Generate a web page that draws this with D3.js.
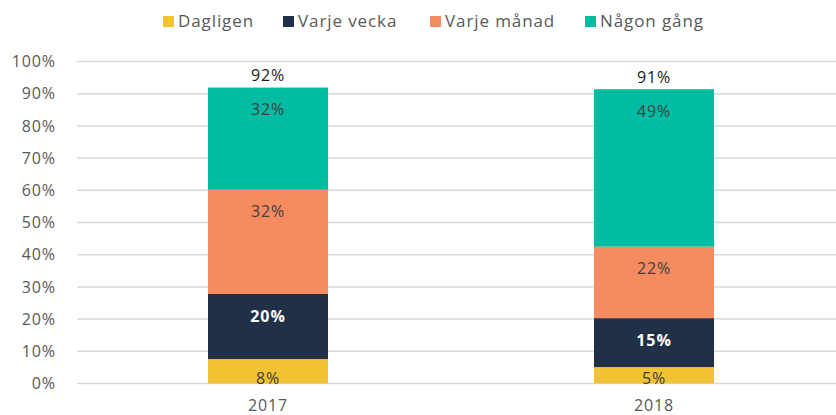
<!DOCTYPE html>
<html>
<head>
<meta charset="utf-8">
<script src="https://cdn.jsdelivr.net/npm/d3@7"></script>
<style>
  body { margin: 0; background: #fff; }
  text { font-family: "Open Sans", "DejaVu Sans", sans-serif; letter-spacing: 0.9px; }
</style>
</head>
<body>
<div id="chart"></div>
<script>
// data
var years = ["2017", "2018"];
var series = ["Dagligen", "Varje vecka", "Varje månad", "Någon gång"];
var dagligen = [7.6, 5.1];
var varjeVecka = [20.2, 15.2];
var varjeManad = [32.4, 22.2];
var nagonGang = [31.7, 48.9];
var yTicks = [0, 10, 20, 30, 40, 50, 60, 70, 80, 90, 100];

var colors = ["#f1c232", "#1f3047", "#f58b5f", "#00bca3"];
var labelColors = ["#404040", "#ffffff", "#404040", "#404040"];

var W = 836, H = 415;
var margin = { top: 61.5, right: -11, bottom: 31.5, left: 75 };
var width = W - margin.left - margin.right,
  height = H - margin.top - margin.bottom;

var svg = d3.select("#chart").append("svg")
  .attr("width", W)
  .attr("height", H);

var g = svg.append("g")
  .attr("transform", "translate(" + margin.left + "," + margin.top + ")");

var x = d3.scaleBand().domain(years).range([0, width]).paddingInner(0).paddingOuter(0);
var y = d3.scaleLinear().domain([0, 100]).range([height, 0]);
var barW = 120;

// build rows for stacking
var rows = years.map(function (yr, i) {
  return {
    year: yr,
    "Dagligen": dagligen[i],
    "Varje vecka": varjeVecka[i],
    "Varje månad": varjeManad[i],
    "Någon gång": nagonGang[i]
  };
});
var stacked = d3.stack().keys(series)(rows);

// gridlines
g.append("g").selectAll("line").data(yTicks).join("line")
  .attr("x1", 2).attr("x2", width)
  .attr("y1", function (d) { return y(d); })
  .attr("y2", function (d) { return y(d); })
  .attr("stroke", "#d9d9d9")
  .attr("stroke-width", 1.5);

// y axis labels
var yAxis = g.append("g")
  .attr("transform", "translate(-16,0)")
  .call(d3.axisLeft(y).tickValues(yTicks).tickSize(0).tickFormat(function (d) { return d + "%"; }));
yAxis.select(".domain").remove();
yAxis.selectAll("text")
  .attr("font-size", "16px")
  .attr("fill", "#595959")
  .attr("font-family", "Open Sans, sans-serif");

// x axis labels
var xAxis = g.append("g")
  .attr("transform", "translate(0," + height + ")")
  .call(d3.axisBottom(x).tickSize(0).tickPadding(16));
xAxis.select(".domain").remove();
xAxis.selectAll("text")
  .attr("font-size", "16px")
  .attr("fill", "#595959")
  .attr("font-family", "Open Sans, sans-serif");

// bars
var layers = g.selectAll(".layer").data(stacked).join("g")
  .attr("class", "layer")
  .attr("fill", function (d, i) { return colors[i]; });

layers.selectAll("rect").data(function (d) { return d; }).join("rect")
  .attr("x", function (d) { return x(d.data.year) + x.bandwidth() / 2 - barW / 2; })
  .attr("y", function (d) { return y(d[1]); })
  .attr("width", barW)
  .attr("height", function (d) { return y(d[0]) - y(d[1]); });

// segment labels, near the top of each segment (kept just above the baseline)
stacked.forEach(function (layer, li) {
  g.append("g").selectAll("text").data(layer).join("text")
    .attr("x", function (d) { return x(d.data.year) + x.bandwidth() / 2; })
    .attr("y", function (d) { return Math.min(y(d[1]) + 22, height - 5); })
    .attr("dy", "0.35em")
    .attr("text-anchor", "middle")
    .attr("font-size", "16px")
    .attr("font-weight", li === 1 ? "bold" : "normal")
    .attr("fill", labelColors[li])
    .text(function (d) { return Math.round(d[1] - d[0]) + "%"; });
});

// totals
var last = stacked[stacked.length - 1];
g.append("g").selectAll("text").data(last).join("text")
  .attr("x", function (d) { return x(d.data.year) + x.bandwidth() / 2; })
  .attr("y", function (d) { return y(d[1]) - 12; })
  .attr("dy", "0.35em")
  .attr("text-anchor", "middle")
  .attr("font-size", "16px")
  .attr("fill", "#1a1a1a")
  .text(function (d) { return Math.round(d[1]) + "%"; });

// legend
var legendX = [163, 283, 430, 585];
var legend = svg.append("g").selectAll("g").data(series).join("g")
  .attr("transform", function (d, i) { return "translate(" + legendX[i] + ",16)"; });
legend.append("rect")
  .attr("width", 11).attr("height", 11)
  .attr("fill", function (d, i) { return colors[i]; });
legend.append("text")
  .attr("x", 15).attr("y", 5.5)
  .attr("dy", "0.35em")
  .attr("font-size", "17px")
  .attr("fill", "#595959")
  .text(function (d) { return d; });
</script>
</body>
</html>
